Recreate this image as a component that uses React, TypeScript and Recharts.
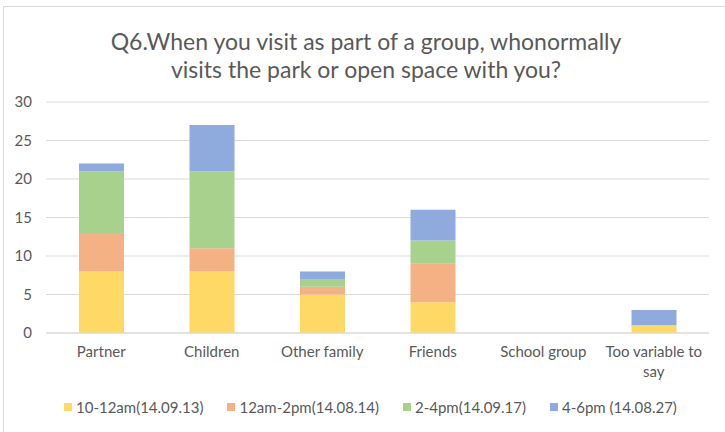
import { BarChart, Bar, XAxis, YAxis, CartesianGrid, Text } from 'recharts';

const categories = ['Partner', 'Children', 'Other family', 'Friends', 'School group', 'Too variable to say'];
const seriesNames = ['10-12am(14.09.13)', '12am-2pm(14.08.14)', '2-4pm(14.09.17)', '4-6pm (14.08.27)'];
const morning = [8, 8, 5, 4, 0, 1];
const midday = [5, 3, 1, 5, 0, 0];
const afternoon = [8, 10, 1, 3, 0, 0];
const evening = [1, 6, 1, 4, 0, 2];
const yTicks = [0, 5, 10, 15, 20, 25, 30];

const COLORS = ['#FFD966', '#F4B183', '#A9D18E', '#8FAADC'];
const KEYS = ['morning', 'midday', 'afternoon', 'evening'];
const TEXT = '#595959';
const FONT = 'Lato, "Open Sans", sans-serif';

const data = categories.map((name, i) => ({
  name,
  morning: morning[i],
  midday: midday[i],
  afternoon: afternoon[i],
  evening: evening[i],
}));

function CategoryTick({ x, y, payload }: any) {
  return (
    <Text
      x={x}
      y={y + 5}
      width={108}
      textAnchor="middle"
      verticalAnchor="start"
      lineHeight={20}
      fill={TEXT}
      fontSize={15}
      fontFamily={FONT}
    >
      {payload.value}
    </Text>
  );
}

export default function App() {
  return (
    <div
      style={{
        position: 'absolute',
        left: 0,
        top: 0,
        width: 725,
        height: 432,
        overflow: 'hidden',
        background: '#fff',
        fontFamily: FONT,
      }}
    >
      <div
        style={{
          position: 'absolute',
          left: 3,
          top: 6,
          width: 760,
          height: 460,
          borderTop: '1.5px solid #d9d9d9',
          borderLeft: '1.5px solid #d9d9d9',
        }}
      />
      <div
        style={{
          position: 'absolute',
          left: 0,
          top: 27,
          width: 732,
          textAlign: 'center',
          fontSize: 23,
          lineHeight: '28px',
          color: TEXT,
        }}
      >
        Q6.When you visit as part of a group, whonormally
        <br />
        visits the park or open space with you?
      </div>
      <div style={{ position: 'absolute', left: 0, top: 0 }}>
        <BarChart
          width={725}
          height={390}
          data={data}
          barSize={45}
          margin={{ top: 102, right: 16, left: 0, bottom: 0 }}
        >
          <CartesianGrid vertical={false} stroke="#d9d9d9" />
          <XAxis
            dataKey="name"
            height={57}
            interval={0}
            tickLine={false}
            axisLine={{ stroke: '#d9d9d9' }}
            tick={<CategoryTick />}
          />
          <YAxis
            width={46}
            domain={[0, 30]}
            ticks={yTicks}
            axisLine={false}
            tickLine={false}
            tickMargin={8}
            tick={{ fill: TEXT, fontSize: 15, fontFamily: FONT }}
          />
          {KEYS.map((k, i) => (
            <Bar key={k} dataKey={k} name={seriesNames[i]} stackId="a" fill={COLORS[i]} isAnimationActive={false} />
          ))}
        </BarChart>
      </div>
      <div
        style={{
          position: 'absolute',
          left: 64,
          top: 397,
          display: 'flex',
          alignItems: 'center',
          fontSize: 15,
          color: TEXT,
          lineHeight: '20px',
        }}
      >
        {seriesNames.map((s, i) => (
          <div key={s} style={{ display: 'flex', alignItems: 'center', marginRight: 24 }}>
            <span style={{ width: 8, height: 8, background: COLORS[i], marginRight: 4, display: 'inline-block' }} />
            <span>{s}</span>
          </div>
        ))}
      </div>
    </div>
  );
}
